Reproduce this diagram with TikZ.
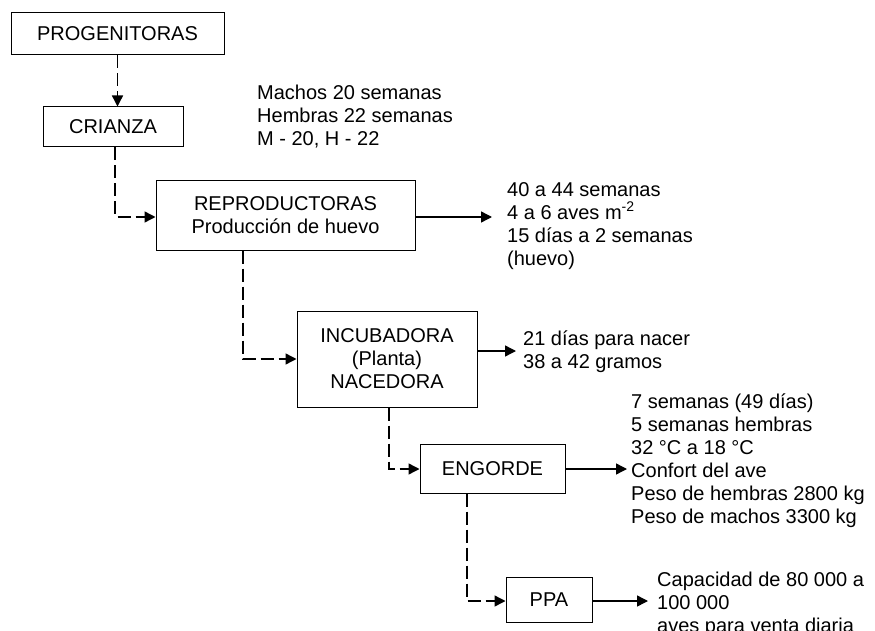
\documentclass[tikz,border=0pt]{standalone}
\usepackage{fontspec}
\setmainfont{Liberation Sans}
\usetikzlibrary{arrows.meta,calc}
\begin{document}
\begin{tikzpicture}[x=1pt,y=-1pt,
  box/.style={draw,line width=1pt,minimum width=#1,inner sep=0pt,align=center,font=\fontsize{20}{23}\selectfont},
  info/.style={anchor=west,inner sep=0pt,align=left,font=\fontsize{20}{23}\selectfont},
  dashline/.style={line width=1.4pt,dash pattern=on 13pt off 5pt,-{Triangle[length=11pt,width=11pt]}},
  solidline/.style={line width=1.4pt,-{Triangle[length=11pt,width=11pt]}}
]
\useasboundingbox (0,0) rectangle (875,631);
\node[box=213pt,minimum height=42pt] (prog) at (117.5,34) {PROGENITORAS};
\node[box=140pt,minimum height=40pt] (cri) at (113,127) {CRIANZA};
\node[box=259pt,minimum height=69pt] (rep) at (285.5,215.5) {REPRODUCTORAS\\Producción de huevo};
\node[box=180pt,minimum height=96pt] (inc) at (387,359) {INCUBADORA\\(Planta)\\NACEDORA};
\node[box=145pt,minimum height=49pt] (eng) at (492.5,468.5) {ENGORDE};
\node[box=86pt,minimum height=45pt] (ppa) at (549,599.5) {PPA};

\node[info] (tm) at (257,117) {Machos 20 semanas\\Hembras 22 semanas\\M - 20, H - 22};
\node[info] (tr) at (507,226) {40 a 44 semanas\\4 a 6 aves m\textsuperscript{-2}\\15 días a 2 semanas\\(huevo)};
\node[info] (ti) at (523,352) {21 días para nacer\\38 a 42 gramos};
\node[info] (te) at (631,461) {7 semanas (49 días)\\5 semanas hembras\\32 °C a 18 °C\\Confort del ave\\Peso de hembras 2800 kg\\Peso de machos 3300 kg};
\node[info] (tp) at (657,604) {Capacidad de 80 000 a\\100 000\\aves para venta diaria};

\coordinate (x1) at (115,0);
\coordinate (x2) at (243,0);
\coordinate (x3) at (389,0);
\coordinate (x4) at (467,0);
\coordinate (a1) at (492,217);
\coordinate (a2) at (516,351);
\coordinate (a3) at (627,469);
\coordinate (a4) at (648,601);

\draw[dashline] (prog.south) -- (prog.south |- cri.north);
\draw[dashline] (x1 |- cri.south) |- (rep.west |- a1);
\draw[dashline] (x2 |- rep.south) |- (inc.west);
\draw[dashline] (x3 |- inc.south) |- (eng.west |- a3);
\draw[dashline] (x4 |- eng.south) |- (ppa.west |- a4);

\draw[solidline] (rep.east |- a1) -- (a1);
\draw[solidline] (inc.east |- a2) -- (a2);
\draw[solidline] (eng.east |- a3) -- (a3);
\draw[solidline] (ppa.east |- a4) -- (a4);
\end{tikzpicture}
\end{document}
